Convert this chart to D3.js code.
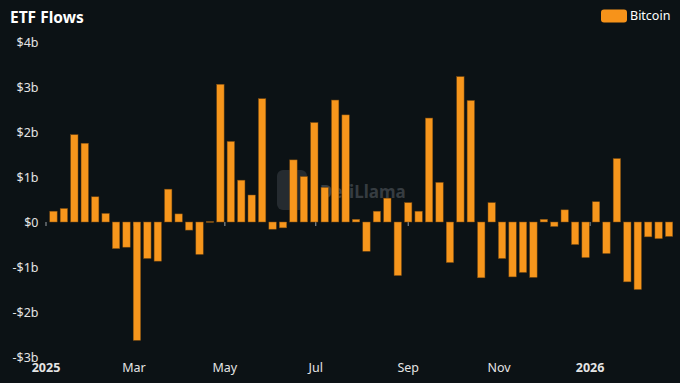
<!DOCTYPE html>
<html>
<head>
<meta charset="utf-8">
<script src="https://cdn.jsdelivr.net/npm/d3@7"></script>
<style>
  html, body { margin: 0; padding: 0; background: #0c1215; }
  svg { display: block; font-family: "Noto Sans", "Open Sans", sans-serif; }
</style>
</head>
<body>
<div id="chart"></div>
<script>
// weekly Bitcoin ETF net flows, $ billions
const weeks = [
    "2025-01-06","2025-01-13","2025-01-20","2025-01-27","2025-02-03","2025-02-10","2025-02-17","2025-02-24",
    "2025-03-03","2025-03-10","2025-03-17","2025-03-24","2025-03-31","2025-04-07","2025-04-14","2025-04-21",
    "2025-04-28","2025-05-05","2025-05-12","2025-05-19","2025-05-26","2025-06-02","2025-06-09","2025-06-16",
    "2025-06-23","2025-06-30","2025-07-07","2025-07-14","2025-07-21","2025-07-28","2025-08-04","2025-08-11",
    "2025-08-18","2025-08-25","2025-09-01","2025-09-08","2025-09-15","2025-09-22","2025-09-29","2025-10-06",
    "2025-10-13","2025-10-20","2025-10-27","2025-11-03","2025-11-10","2025-11-17","2025-11-24","2025-12-01",
    "2025-12-08","2025-12-15","2025-12-22","2025-12-29","2026-01-05","2026-01-12","2026-01-19","2026-01-26",
    "2026-02-02","2026-02-09","2026-02-16","2026-02-23"
];
const flows = [
    0.24, 0.30, 1.94, 1.75, 0.56, 0.19, -0.59, -0.56,
    -2.63, -0.81, -0.87, 0.73, 0.18, -0.18, -0.72, 0.01,
    3.06, 1.79, 0.93, 0.60, 2.74, -0.16, -0.13, 1.38,
    1.01, 2.21, 0.77, 2.71, 2.38, 0.06, -0.65, 0.24,
    0.53, -1.19, 0.43, 0.24, 2.31, 0.88, -0.90, 3.23,
    2.70, -1.24, 0.43, -0.81, -1.22, -1.12, -1.23, 0.06,
    -0.10, 0.27, -0.50, -0.79, 0.45, -0.70, 1.41, -1.33,
    -1.50, -0.33, -0.37, -0.32
];
const yTicks = [-3, -2, -1, 0, 1, 2, 3, 4];
const seriesName = "Bitcoin";

const parse = d3.timeParse("%Y-%m-%d");
const data = weeks.map((w, i) => ({date: parse(w), value: flows[i]}));

const W = 680, H = 383;
const svg = d3.select("#chart").append("svg")
    .attr("width", W)
    .attr("height", H);

svg.append("rect").attr("width", W).attr("height", H).attr("fill", "#0c1215");

const x = d3.scaleTime()
    .domain([parse("2025-01-01"), parse("2026-03-01")])
    .range([46, 678]);

const y = d3.scaleLinear()
    .domain([-3, 4])
    .range([357, 42]);

// watermark
const wm = svg.append("g").attr("opacity", 0.55);
wm.append("rect")
    .attr("x", 277).attr("y", 170)
    .attr("width", 30).attr("height", 40)
    .attr("rx", 6)
    .attr("fill", "#3b4147");
wm.append("text")
    .attr("x", 320).attr("y", 198)
    .attr("font-size", 17)
    .attr("font-weight", "bold")
    .attr("fill", "#5a6066")
    .text("DefiLlama");

// title
svg.append("text")
    .attr("x", 10).attr("y", 23)
    .attr("font-size", 15.5)
    .attr("font-weight", "bold")
    .attr("fill", "#ffffff")
    .text("ETF Flows");

// legend
svg.append("rect")
    .attr("x", 601).attr("y", 9.5)
    .attr("width", 26).attr("height", 13)
    .attr("rx", 3)
    .attr("fill", "#f7931a");
svg.append("text")
    .attr("x", 630).attr("y", 20)
    .attr("font-size", 12.5)
    .attr("fill", "#ffffff")
    .text(seriesName);

// y labels
svg.append("g")
    .selectAll("text")
    .data(yTicks)
    .join("text")
    .attr("x", 38.5)
    .attr("y", d => y(d) + 4.5)
    .attr("text-anchor", "end")
    .attr("font-size", 12.5)
    .attr("fill", "#e4e4e4")
    .text(d => d < 0 ? "-$" + Math.abs(d) + "b" : (d === 0 ? "$0" : "$" + d + "b"));

// x ticks + labels
const monthTicks = x.ticks(d3.timeMonth.every(2)).filter(d => d <= parse("2026-02-01"));
svg.append("g")
    .selectAll("line")
    .data(monthTicks)
    .join("line")
    .attr("x1", d => x(d)).attr("x2", d => x(d))
    .attr("y1", y(0)).attr("y2", y(0) + 4)
    .attr("stroke", "#9aa0a6")
    .attr("stroke-width", 1);

svg.append("g")
    .selectAll("text")
    .data(monthTicks)
    .join("text")
    .attr("x", d => x(d))
    .attr("y", 371.5)
    .attr("text-anchor", "middle")
    .attr("font-size", 12.5)
    .attr("font-weight", d => d.getMonth() === 0 ? "bold" : "normal")
    .attr("fill", "#e4e4e4")
    .text(d => d.getMonth() === 0 ? d3.timeFormat("%Y")(d) : d3.timeFormat("%b")(d));

// bars
const bw = 7.4;
svg.append("g")
    .selectAll("rect")
    .data(data)
    .join("rect")
    .attr("x", d => x(d.date) - bw / 2)
    .attr("y", d => y(Math.max(0, d.value)))
    .attr("width", bw)
    .attr("height", d => Math.max(0.8, Math.abs(y(d.value) - y(0))))
    .attr("fill", "#f7961c")
    .attr("stroke", "#7a4a10")
    .attr("stroke-width", 0.5);
</script>
</body>
</html>
